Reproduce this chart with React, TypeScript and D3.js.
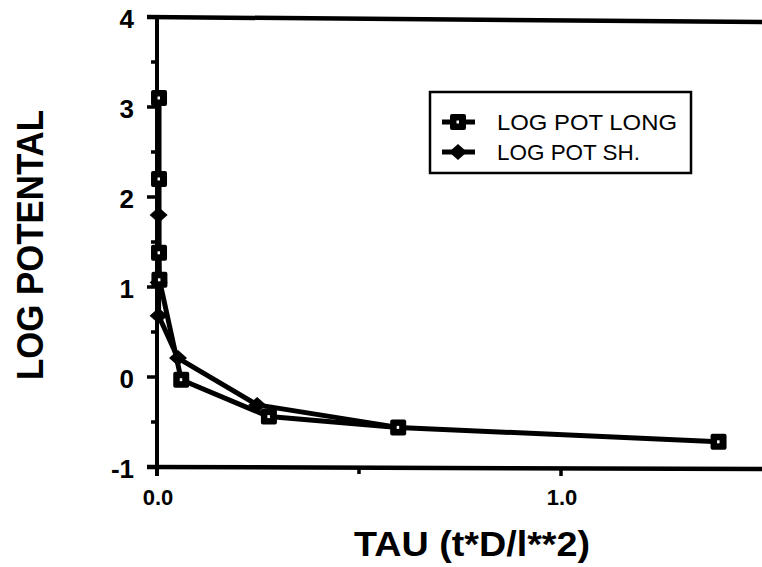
import React from "react";
import * as d3 from "d3";

const longTau = [0.005, 0.005, 0.005, 0.006, 0.06, 0.277, 0.597, 1.39];
const longPot = [3.1, 2.2, 1.38, 1.08, -0.03, -0.44, -0.56, -0.72];
const shTau = [0.004, 0.004, 0.004, 0.052, 0.248, 0.597];
const shPot = [1.8, 1.05, 0.68, 0.21, -0.31, -0.56];
const yTicks = [-1, 0, 1, 2, 3, 4];
const yMinor = [-0.5, 0.5, 1.5, 2.5, 3.5];
const xTicks = [0, 1.0];
const xMinor = [0.5];
const legendLabels = ["LOG POT LONG", "LOG POT SH."];

const W = 762, H = 567;
const left = 157, right = 762, top = 17, bottom = 467;

export default function App() {
  const x = d3.scaleLinear().domain([0, 1]).range([left, 561]);
  const y = d3.scaleLinear().domain([-1, 4]).range([bottom, top]);
  const line = d3.line<[number, number]>().x(d => x(d[0])).y(d => y(d[1]));
  const longPts: [number, number][] = longTau.map((t, i) => [t, longPot[i]]);
  const shPts: [number, number][] = shTau.map((t, i) => [t, shPot[i]]);
  const font = "'Liberation Sans', Arial, Helvetica, sans-serif";
  const square = (cx: number, cy: number, k: string | number) => (
    <g key={k}>
      <rect x={cx - 8} y={cy - 8} width={16} height={16} fill="#000" rx={2} />
      <rect x={cx - 1.5} y={cy - 1.5} width={2.5} height={3} fill="#fff" />
    </g>
  );
  const diamond = (cx: number, cy: number, k: string | number) => (
    <path key={k} d={`M${cx - 9},${cy} L${cx},${cy - 8} L${cx + 9},${cy} L${cx},${cy + 8} Z`} fill="#000" />
  );
  return (
    <svg width={W} height={H} style={{ position: "absolute", left: 0, top: 0, background: "#fff" }}>
      <rect width={W} height={H} fill="#fff" />
      {/* axes frame */}
      <line x1={147} x2={right} y1={top} y2={top + 5} stroke="#000" strokeWidth={4.5} />
      <line x1={147} x2={right} y1={bottom} y2={bottom + 2} stroke="#000" strokeWidth={4.5} />
      <line x1={left} x2={left} y1={top} y2={bottom + 9} stroke="#000" strokeWidth={4} />
      {/* y ticks */}
      {yTicks.map(v => (
        <g key={"yt" + v}>
          <line x1={left - 10} x2={left} y1={y(v)} y2={y(v)} stroke="#000" strokeWidth={3.5} />
          <text x={134} y={y(v) + 11} textAnchor="end" fontFamily={font} fontWeight="bold" fontSize={26}>{v}</text>
        </g>
      ))}
      {yMinor.map(v => (
        <line key={"ym" + v} x1={left - 6} x2={left} y1={y(v)} y2={y(v)} stroke="#000" strokeWidth={3.5} />
      ))}
      {/* x ticks */}
      {xTicks.map(v => (
        <g key={"xt" + v}>
          <line x1={x(v)} x2={x(v)} y1={bottom} y2={bottom + 9} stroke="#000" strokeWidth={3.5} />
          <text x={x(v) + 1} y={bottom + 38} textAnchor="middle" fontFamily={font} fontWeight="bold" fontSize={22}>{d3.format(".1f")(v)}</text>
        </g>
      ))}
      {xMinor.map(v => (
        <line key={"xm" + v} x1={x(v)} x2={x(v)} y1={bottom} y2={bottom + 7} stroke="#000" strokeWidth={3.5} />
      ))}
      {/* series */}
      <path d={line(longPts) || ""} fill="none" stroke="#000" strokeWidth={5} strokeLinejoin="round" />
      <path d={line(shPts) || ""} fill="none" stroke="#000" strokeWidth={5} strokeLinejoin="round" />
      {shPts.map((p, i) => diamond(x(p[0]), y(p[1]), "d" + i))}
      {longPts.map((p, i) => square(x(p[0]), y(p[1]), "s" + i))}
      {/* legend */}
      <rect x={430} y={92} width={261} height={81} fill="#fff" stroke="#000" strokeWidth={2.5} />
      <line x1={442} x2={475} y1={122} y2={122} stroke="#000" strokeWidth={5} />
      {square(458, 122, "ls")}
      <line x1={442} x2={475} y1={152} y2={152} stroke="#000" strokeWidth={5} />
      {diamond(458, 152, "ld")}
      {legendLabels.map((l, i) => (
        <text key={l} x={497} y={130 + i * 30} fontFamily={font} fontSize={22} textLength={i === 0 ? 180 : 143} lengthAdjust="spacingAndGlyphs">{l}</text>
      ))}
      {/* axis titles */}
      <text x={472} y={556} textAnchor="middle" fontFamily={font} fontWeight="bold" fontSize={35} textLength={236} lengthAdjust="spacingAndGlyphs">TAU (t*D/l**2)</text>
      <text transform={`translate(43,${245}) rotate(-90)`} textAnchor="middle" fontFamily={font} fontWeight="bold" fontSize={36} textLength={270} lengthAdjust="spacingAndGlyphs">LOG POTENTAL</text>
    </svg>
  );
}
